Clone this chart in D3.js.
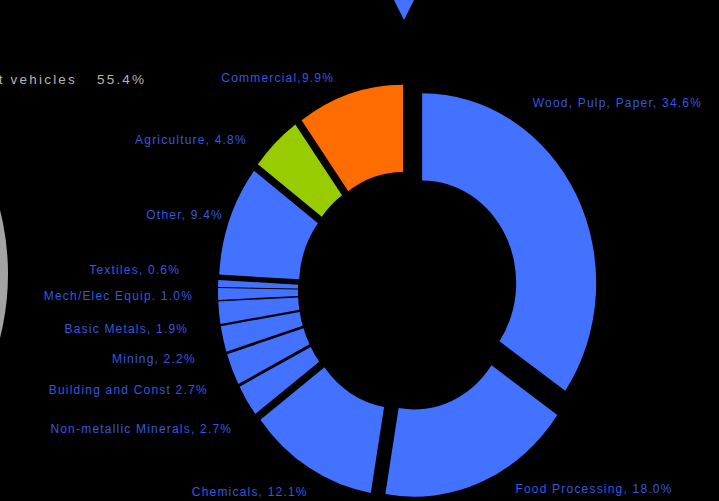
<!DOCTYPE html>
<html>
<head>
<meta charset="utf-8">
<script src="https://cdn.jsdelivr.net/npm/d3@7"></script>
<style>
  html, body { margin: 0; padding: 0; background: #000; }
  svg { display: block; }
  text { font-family: "Liberation Sans", Arial, sans-serif; }
</style>
</head>
<body>
<div id="chart"></div>
<script>
// energy use by sector, %
var categories = ["Wood, Pulp, Paper", "Food Processing", "Chemicals", "Non-metallic Minerals",
  "Building and Const", "Mining", "Basic Metals", "Mech/Elec Equip.", "Textiles", "Other",
  "Agriculture", "Commercial"];
var shares = [34.6, 18.0, 12.1, 2.7, 2.7, 2.2, 1.9, 1.0, 0.6, 9.4, 4.8, 9.9];
var labelText = ["Wood, Pulp, Paper, 34.6%", "Food Processing, 18.0%", "Chemicals, 12.1%",
  "Non-metallic Minerals, 2.7%", "Building and Const 2.7%", "Mining, 2.2%", "Basic Metals, 1.9%",
  "Mech/Elec Equip. 1.0%", "Textiles, 0.6%", "Other, 9.4%", "Agriculture, 4.8%", "Commercial,9.9%"];

// neighbouring chart (cut off on the left)
var sideLabel = "Light vehicles";
var sideValue = "55.4%";

var w = 719, h = 501;
var cx = 408, cy = 291, sy = 1.09;
var rOuter = 174, rInner = 94, explode = 16, rLabel = 212;

var colour = d3.scaleOrdinal()
  .domain(categories)
  .range(categories.map(function(c){
    if (c == "Commercial") return "#ff6d00";
    if (c == "Agriculture") return "#99cc00";
    return "#4272ff";
  }));

// excel moved some labels around, follow it
var nudge = {
  "Wood, Pulp, Paper": [-63, -80],
  "Food Processing": [25, -14],
  "Chemicals": [10, 4],
  "Non-metallic Minerals": [4, 16],
  "Building and Const": [-4, 12],
  "Mining": [-6, 15],
  "Basic Metals": [-9, 15],
  "Mech/Elec Equip.": [-3, 3],
  "Textiles": [-16, -12],
  "Other": [14, 4],
  "Agriculture": [-13, 15],
  "Commercial": [-9, 8]
};

var fontSize = "12px", spacing = "1.2px";

var svg = d3.select("#chart")
  .append("svg")
  .attr("width", w)
  .attr("height", h);

svg.append("rect")
  .attr("width", w)
  .attr("height", h)
  .attr("fill", "#000");

// grey disc of the neighbouring chart
svg.append("circle")
  .attr("cx", -252)
  .attr("cy", 274)
  .attr("r", 260)
  .attr("fill", "#a3a3a3");

svg.append("text")
  .attr("x", 77)
  .attr("y", 80)
  .attr("text-anchor", "end")
  .attr("dominant-baseline", "middle")
  .attr("fill", "#b5b5b5")
  .attr("font-size", "13.5px")
  .attr("letter-spacing", "2.2px")
  .text(sideLabel);

svg.append("text")
  .attr("x", 97)
  .attr("y", 80)
  .attr("dominant-baseline", "middle")
  .attr("fill", "#b5b5b5")
  .attr("font-size", "13.5px")
  .attr("letter-spacing", "2.2px")
  .text(sideValue);

// pointer at the top
svg.append("path")
  .attr("d", d3.line()([[391, -6], [417, -6], [404, 20]]) + "Z")
  .attr("fill", "#4272ff");

var pie = d3.pie().sort(null).value(function(d){ return d; });
var arcs = pie(shares);

var arc = d3.arc().innerRadius(rInner).outerRadius(rOuter);

var donut = svg.append("g")
  .attr("transform", "translate(" + cx + "," + cy + ") scale(1," + sy + ")");

donut.selectAll("path")
  .data(arcs)
  .enter()
  .append("path")
  .attr("d", arc)
  .attr("fill", function(d, i){ return colour(categories[i]); })
  .attr("transform", function(d){
    var a = (d.startAngle + d.endAngle) / 2;
    return "translate(" + (explode * Math.sin(a)) + "," + (-explode * Math.cos(a)) + ")";
  });

svg.selectAll(".slice_label")
  .data(arcs)
  .enter()
  .append("text")
  .attr("class", "slice_label")
  .attr("x", function(d, i){
    var a = (d.startAngle + d.endAngle) / 2;
    return cx + rLabel * Math.sin(a) + nudge[categories[i]][0];
  })
  .attr("y", function(d, i){
    var a = (d.startAngle + d.endAngle) / 2;
    return cy - sy * rLabel * Math.cos(a) + nudge[categories[i]][1];
  })
  .attr("text-anchor", function(d){
    var a = (d.startAngle + d.endAngle) / 2;
    return Math.sin(a) < 0 ? "end" : "start";
  })
  .attr("dominant-baseline", "middle")
  .attr("fill", "#3358e0")
  .attr("font-size", fontSize)
  .attr("letter-spacing", spacing)
  .text(function(d, i){ return labelText[i]; });
</script>
</body>
</html>
